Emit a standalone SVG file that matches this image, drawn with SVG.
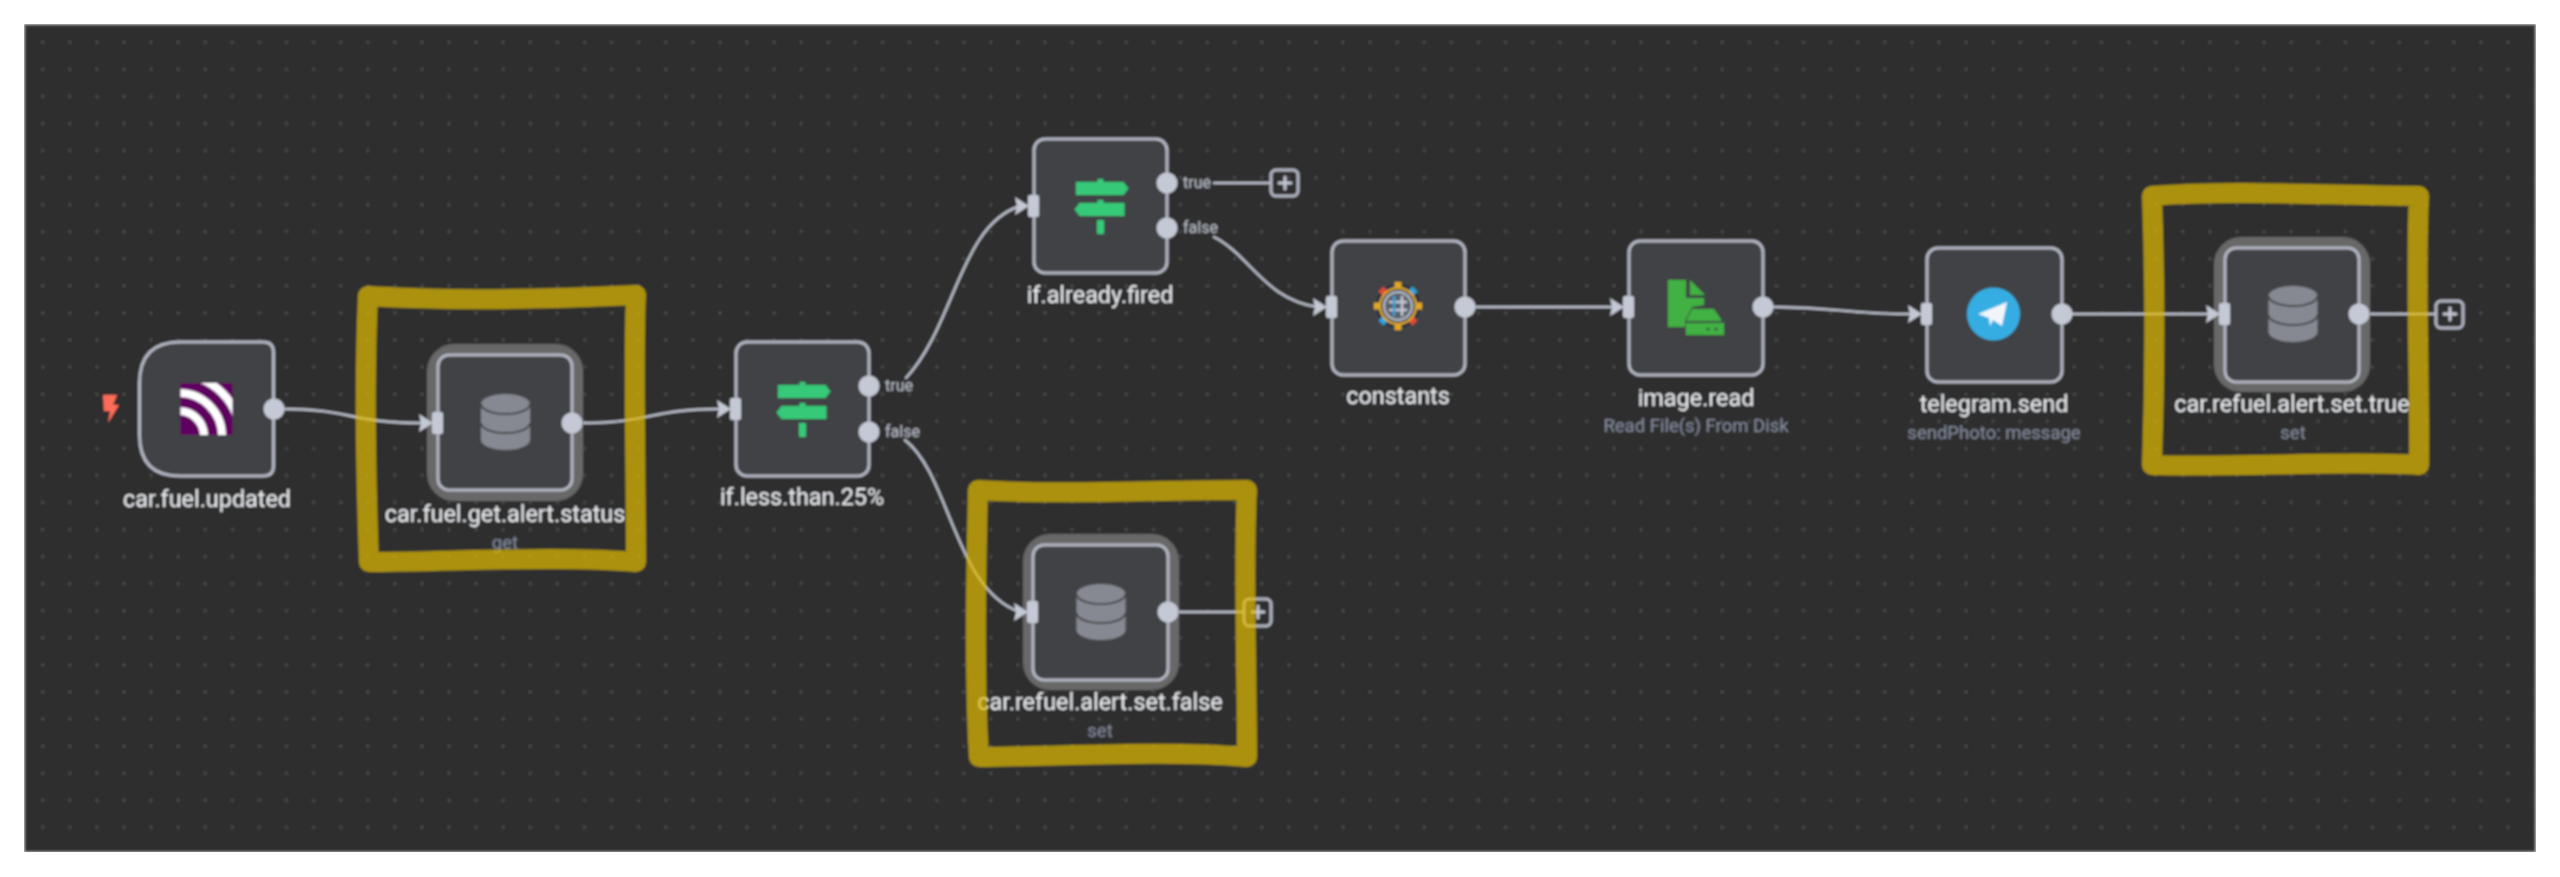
<svg xmlns="http://www.w3.org/2000/svg" width="2560" height="877" viewBox="0 0 2560 877">
<style>
.nd{fill:#414244;stroke:#b4b8c4;stroke-width:3}
.halo{fill:#686868}
.out{fill:#c5c9d6}
.wire{fill:none;stroke:#bcc0cc;stroke-width:2.4;stroke-linecap:round}
.plus{fill:none;stroke:#b4b8c4;stroke-width:3}
.plusm{stroke:#c5c9d6;stroke-width:3;stroke-linecap:round}
.lb{font-family:Roboto,"Liberation Sans",sans-serif;font-weight:400;font-size:23.4px;fill:#eceef2;text-anchor:middle}
.sub{font-family:Roboto,"Liberation Sans",sans-serif;font-size:18.5px;fill:#858b9d;text-anchor:middle}
.br{font-family:Roboto,"Liberation Sans",sans-serif;font-size:16px;fill:#bcc0cc}
.mark{fill:none;stroke:#e1bb03;stroke-opacity:.7;stroke-width:20;stroke-linejoin:round}
</style>
<defs>
<pattern id="dots" patternUnits="userSpaceOnUse" x="29.2" y="28.8" width="27.09" height="27.07"><circle cx="13.5" cy="13.5" r="1.4" fill="#525453"/></pattern>
<g id="port"><rect x="-6" y="-11" width="11" height="22" rx="2" fill="#c5c9d6"/><path d="M-19 -9L-5 0L-19 9L-17 0Z" fill="#c5c9d6"/></g>
<g id="db"><path d="M-24.5 -18A24.5 10 0 0 1 24.5 -18V18A24.5 10 0 0 1 -24.5 18Z" fill="#868992"/><path d="M-24.5 -18A24.5 10 0 0 0 24.5 -18M-24.5 1A24.5 10 0 0 0 24.5 1" fill="none" stroke="#414244" stroke-width="2"/></g>
<g id="sign" fill="#35c978"><path d="M-24.5 -24H-3V-27H3V-24H23L28 -17.5L23 -11H-24.5Z"/><path d="M-21 -3H-3V-6H3V-3H24V10H-21L-26 3.5Z"/><rect x="-3.5" y="14" width="7" height="14" rx="1"/></g>
<filter id="soft" x="0" y="0" width="100%" height="100%"><feGaussianBlur stdDeviation="0.9"/></filter>
</defs>
<rect x="0" y="0" width="2560" height="877" fill="#ffffff"/>
<g filter="url(#soft)">
<rect x="24.5" y="24.5" width="2511" height="827.5" fill="#2d2f2e" stroke="#85878a" stroke-width="1.5"/>
<rect x="26" y="26" width="2508" height="825" fill="url(#dots)"/>
<g id="connectors">
<path class="wire" d="M284 409C350 409 350 423 422 423"/>
<path class="wire" d="M582 423C650 423 650 409 720 409"/>
<path class="wire" d="M906 378C955 325 960 225 1020 206"/>
<path class="wire" d="M905 440C950 475 955 590 1020 612"/>
<path class="wire" d="M1214 183H1270"/>
<path class="wire" d="M1214 237C1250 255 1265 300 1318 307"/>
<path class="wire" d="M1475 307H1615"/>
<path class="wire" d="M1773 307C1840 307 1840 314 1913 314"/>
<path class="wire" d="M2072 314H2210"/>
<path class="wire" d="M1178 612H1243"/>
<path class="wire" d="M2369 314H2435"/>
</g>
<g id="car-fuel-updated">
<path class="nd" d="M180 342H263Q273.5 342 273.5 352V466Q273.5 476 263 476H180Q139.500 476 139.500 435V383Q139.500 342 180 342Z"/>
<rect x="180.500" y="383" width="52" height="52" fill="#5f0060"/>
<clipPath id="rc"><rect x="180.500" y="383" width="52" height="52"/></clipPath>
<g clip-path="url(#rc)" fill="none" stroke="#fff" stroke-width="8"><circle cx="179" cy="436" r="25"/><circle cx="179" cy="436" r="43"/><circle cx="179" cy="436" r="61"/></g>
<circle class="out" cx="274" cy="409" r="10.500"/>
<path d="M103 395H117L113 405H119L108 423L110 411H104Z" fill="#ff6d5a"/>
<text class="lb" x="207" y="507">car.fuel.updated</text>
</g>
<g id="car-fuel-get-alert-status">
<rect class="halo" x="427" y="344" width="156" height="157" rx="27"/>
<rect class="nd" x="438" y="355" width="134" height="135" rx="11"/>
<use href="#db" x="505.500" y="422"/>
<use href="#port" x="438" y="423"/>
<circle class="out" cx="572" cy="423" r="10.500"/>
<text class="lb" x="505" y="522">car.fuel.get.alert.status</text>
<text class="sub" x="505" y="549">get</text>
</g>
<g id="if-less-than-25">
<rect class="nd" x="736" y="342" width="133" height="134" rx="11"/>
<use href="#sign" x="802.500" y="409"/>
<use href="#port" x="736" y="409"/>
<circle class="out" cx="869" cy="386" r="10.500"/>
<circle class="out" cx="869" cy="432" r="10.500"/>
<text class="br" x="885" y="391">true</text>
<text class="br" x="885" y="437">false</text>
<text class="lb" x="802" y="505">if.less.than.25%</text>
</g>
<g id="if-already-fired">
<rect class="nd" x="1034" y="139" width="133" height="134" rx="11"/>
<use href="#sign" x="1100.500" y="206"/>
<use href="#port" x="1034" y="206"/>
<circle class="out" cx="1167" cy="183" r="10.500"/>
<circle class="out" cx="1167" cy="228" r="10.500"/>
<text class="br" x="1183" y="188">true</text>
<text class="br" x="1183" y="233">false</text>
<rect class="plus" x="1271" y="170" width="27" height="26" rx="5"/>
<path class="plusm" d="M1285 177V189M1279 183H1291"/>
<text class="lb" x="1100" y="303">if.already.fired</text>
</g>
<g id="car-refuel-alert-set-false">
<rect class="halo" x="1023" y="534" width="156" height="156" rx="27"/>
<rect class="nd" x="1033" y="545" width="135" height="135" rx="11"/>
<use href="#db" x="1101" y="612"/>
<use href="#port" x="1033" y="612"/>
<circle class="out" cx="1168" cy="612" r="10.500"/>
<rect class="plus" x="1244" y="599" width="27" height="27" rx="5"/>
<path class="plusm" d="M1258 606V618M1252 612H1264"/>
<text class="lb" x="1100" y="710">car.refuel.alert.set.false</text>
<text class="sub" x="1100" y="737">set</text>
</g>
<g id="constants">
<rect class="nd" x="1332" y="241" width="133" height="134" rx="11"/>
<use href="#port" x="1332" y="307"/>
<circle class="out" cx="1465" cy="307" r="10.500"/>
<circle cx="1398" cy="306" r="22" fill="#1d2a44"/>
<g fill="none" stroke-width="7">
<path stroke="#e2a823" d="M1398 289V282M1398 323V330M1381 306H1374M1415 306H1422"/>
<path stroke="#2ea3e0" d="M1410 294L1415 289M1386 318L1381 323"/>
<path stroke="#e0483a" d="M1386 294L1381 289M1410 318L1415 323"/>
</g>
<circle cx="1398" cy="306" r="18" fill="none" stroke="#d8a52a" stroke-width="2.500"/>
<circle cx="1398" cy="306" r="14" fill="#5a5e68" stroke="#b4b8c4" stroke-width="2.500"/>
<path d="M1389 302H1407M1389 310H1407" stroke="#c5c9d6" stroke-width="2.500" fill="none"/>
<path d="M1394 296V316" stroke="#2ea3e0" stroke-width="2.500" fill="none"/>
<path d="M1402 296V316" stroke="#c5c9d6" stroke-width="2.500" fill="none"/>
<text class="lb" x="1398" y="404">constants</text>
</g>
<g id="image-read">
<rect class="nd" x="1629" y="241" width="134" height="134" rx="11"/>
<g fill="#3fb142">
<path d="M1668 280H1686V298H1704V305L1692 307L1685 321V327H1668Z"/>
<path d="M1690 280L1705 295H1690Z"/>
<path d="M1692 309H1714L1722 321H1686Z"/>
<path d="M1686 323H1724V335H1686Z"/>
</g>
<circle cx="1708" cy="329" r="1.500" fill="#414244"/><circle cx="1716" cy="329" r="1.500" fill="#414244"/>
<use href="#port" x="1629" y="307"/>
<circle class="out" cx="1763" cy="307" r="10.500"/>
<text class="lb" x="1696" y="406">image.read</text>
<text class="sub" x="1696" y="432">Read File(s) From Disk</text>
</g>
<g id="telegram-send">
<rect class="nd" x="1927" y="248" width="135" height="134" rx="11"/>
<circle cx="1993.500" cy="314" r="26.500" fill="#36ade2"/>
<path d="M1978 314L2007 302L2002 326L1993 320L1990 326L1989 318Z" fill="#f2f6fa"/>
<use href="#port" x="1927" y="314"/>
<circle class="out" cx="2062" cy="314" r="10.500"/>
<text class="lb" x="1994" y="412">telegram.send</text>
<text class="sub" x="1994" y="439">sendPhoto: message</text>
</g>
<g id="car-refuel-alert-set-true">
<rect class="halo" x="2214" y="237" width="156" height="155" rx="27"/>
<rect class="nd" x="2225" y="248" width="134" height="134" rx="11"/>
<use href="#db" x="2293" y="314"/>
<use href="#port" x="2225" y="314"/>
<circle class="out" cx="2359" cy="314" r="10.500"/>
<rect class="plus" x="2436" y="301" width="27" height="27" rx="5"/>
<path class="plusm" d="M2450 308V320M2444 314H2456"/>
<text class="lb" x="2292" y="412">car.refuel.alert.set.true</text>
<text class="sub" x="2293" y="439">set</text>
</g>
<g id="highlights">
<path class="mark" d="M368 296C430 300 530 300 636 295C633 350 636 480 636 562C560 555 450 562 369 562C366 480 364 380 368 296Z"/>
<path class="mark" d="M978 490C1050 495 1150 490 1247 490C1243 560 1247 680 1247 757C1170 750 1070 756 979 757C974 680 976 570 978 490Z"/>
<path class="mark" d="M2152 196C2230 190 2320 195 2419 196C2415 270 2420 390 2419 465C2340 460 2240 468 2152 465C2155 380 2155 280 2152 196Z"/>
</g>
</g>
</svg>
